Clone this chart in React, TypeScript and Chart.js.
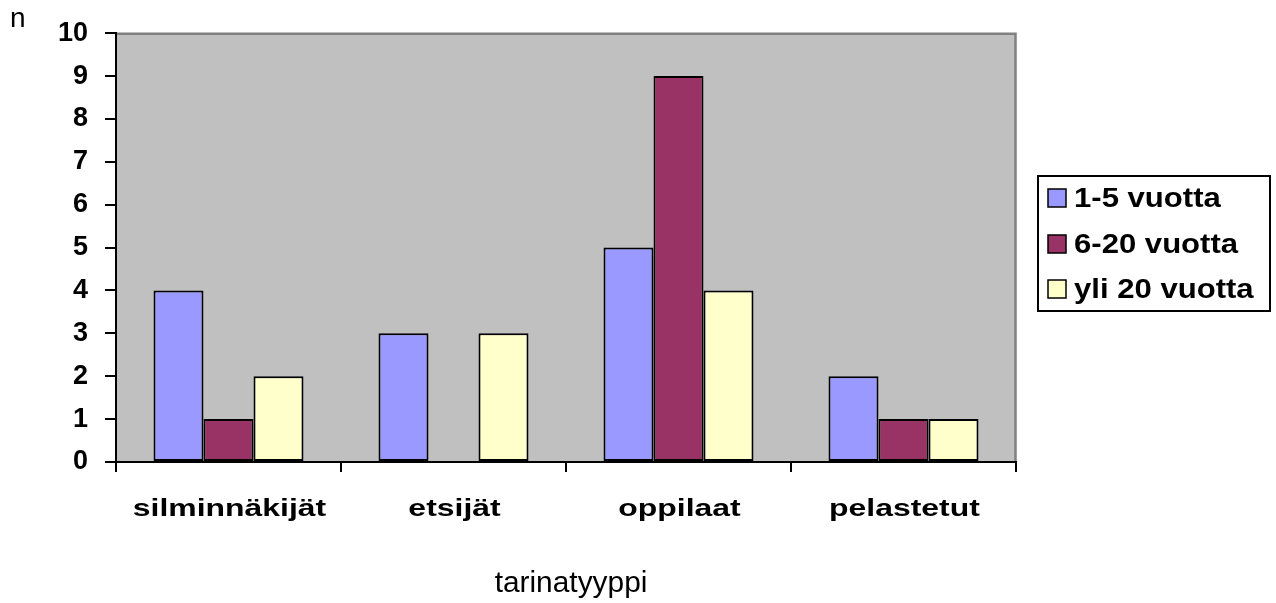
import React, { useEffect, useRef } from "react";
import { Chart, registerables } from "chart.js";

Chart.register(...registerables);

const categories = ["silminnäkijät", "etsijät", "oppilaat", "pelastetut"];
const seriesNames = ["1-5 vuotta", "6-20 vuotta", "yli 20 vuotta"];
const series1 = [4, 3, 5, 2];
const series2 = [1, 0, 9, 1];
const series3 = [2, 3, 4, 1];
const seriesColors = ["#9999FF", "#993366", "#FFFFCC"];
const yTitle = "n";
const xTitle = "tarinatyyppi";
const yMin = 0;
const yMax = 10;
const yStep = 1;

const FONT = "'Liberation Sans', Arial, sans-serif";

function stretchedText(ctx: any, text: string, x: number, y: number, sx: number, align: string) {
  ctx.save();
  ctx.translate(x, y);
  ctx.scale(sx, 1);
  ctx.textAlign = align;
  ctx.fillText(text, 0, 0);
  ctx.restore();
}

const decorPlugin = {
  id: "decor",
  beforeDraw(chart: any) {
    const { ctx, chartArea: a } = chart;
    ctx.save();
    ctx.fillStyle = "#ffffff";
    ctx.fillRect(0, 0, chart.width, chart.height);
    ctx.fillStyle = "#C0C0C0";
    ctx.fillRect(a.left, a.top, a.right - a.left, a.bottom - a.top);
    ctx.strokeStyle = "#808080";
    ctx.lineWidth = 2.5;
    ctx.beginPath();
    ctx.moveTo(a.left, a.top + 0.5);
    ctx.lineTo(a.right - 0.5, a.top + 0.5);
    ctx.lineTo(a.right - 0.5, a.bottom);
    ctx.stroke();
    ctx.restore();
  },
  afterDraw(chart: any) {
    const { ctx } = chart;
    const xs = chart.scales.x;
    ctx.save();
    ctx.fillStyle = "#000";
    // category labels
    ctx.font = `bold 24px ${FONT}`;
    ctx.textBaseline = "alphabetic";
    chart.data.labels.forEach((lab: string, i: number) => {
      const px = xs.getPixelForValue(i);
      stretchedText(ctx, lab, px + 1, 516, 1.33, "center");
    });
    // axis titles
    ctx.font = `29px ${FONT}`;
    stretchedText(ctx, xTitle, 571, 592, 1.03, "center");
    ctx.font = `28px ${FONT}`;
    stretchedText(ctx, yTitle, 10, 27, 1.0, "left");

    // legend
    const lx = 1038, ly = 176, lw = 232, lh = 135;
    ctx.fillStyle = "#ffffff";
    ctx.fillRect(lx, ly, lw, lh);
    ctx.strokeStyle = "#000";
    ctx.lineWidth = 2;
    ctx.strokeRect(lx, ly, lw, lh);
    const rows = [198, 244, 289];
    chart.data.datasets.forEach((ds: any, i: number) => {
      const cy = rows[i];
      ctx.fillStyle = ds.backgroundColor;
      ctx.fillRect(1048, cy - 9, 18, 18);
      ctx.lineWidth = 1.5;
      ctx.strokeStyle = "#000";
      ctx.strokeRect(1048, cy - 9, 18, 18);
      ctx.fillStyle = "#000";
      ctx.font = `bold 28px ${FONT}`;
      ctx.textBaseline = "middle";
      stretchedText(ctx, ds.label, 1074, cy + 1, 1.11, "left");
    });
    ctx.restore();
  },
};

export default function App() {
  const ref = useRef<HTMLCanvasElement>(null);
  useEffect(() => {
    if (!ref.current) return;
    const values = [series1, series2, series3];
    const chart = new Chart(ref.current, {
      type: "bar",
      data: {
        labels: categories,
        datasets: seriesNames.map((name, i) => ({
          label: name,
          data: values[i],
          backgroundColor: seriesColors[i],
          borderColor: "#000000",
          borderWidth: 2,
          borderSkipped: false,
          categoryPercentage: 0.6667,
          barPercentage: 1,
        })),
      },
      options: {
        animation: false,
        responsive: false,
        maintainAspectRatio: false,
        devicePixelRatio: 1,
        layout: { padding: { left: 0, top: 29, right: 260, bottom: 0 } },
        plugins: {
          legend: { display: false },
          tooltip: { enabled: false },
          title: { display: false },
        },
        scales: {
          x: {
            type: "category",
            offset: true,
            grid: {
              offset: true,
              drawOnChartArea: false,
              drawTicks: true,
              tickLength: 10,
              color: "#000",
              lineWidth: 2,
            },
            border: { display: true, color: "#000", width: 2 },
            ticks: { display: false },
            afterFit(scale: any) {
              scale.height = 141;
            },
          },
          y: {
            min: yMin,
            max: yMax,
            grid: {
              drawOnChartArea: false,
              drawTicks: true,
              tickLength: 11,
              color: "#000",
              lineWidth: 2,
            },
            border: { display: true, color: "#000", width: 2 },
            ticks: {
              stepSize: yStep,
              color: "#000",
              padding: 17,
              font: { family: FONT, weight: "bold", size: 27 },
            },
            afterFit(scale: any) {
              scale.width = 116;
            },
          },
        },
      },
      plugins: [decorPlugin],
    } as any);
    return () => chart.destroy();
  }, []);
  return (
    <div style={{ position: "absolute", left: 0, top: 0, width: 1276, height: 603 }}>
      <canvas ref={ref} width={1276} height={603} style={{ display: "block", width: 1276, height: 603 }} />
    </div>
  );
}
